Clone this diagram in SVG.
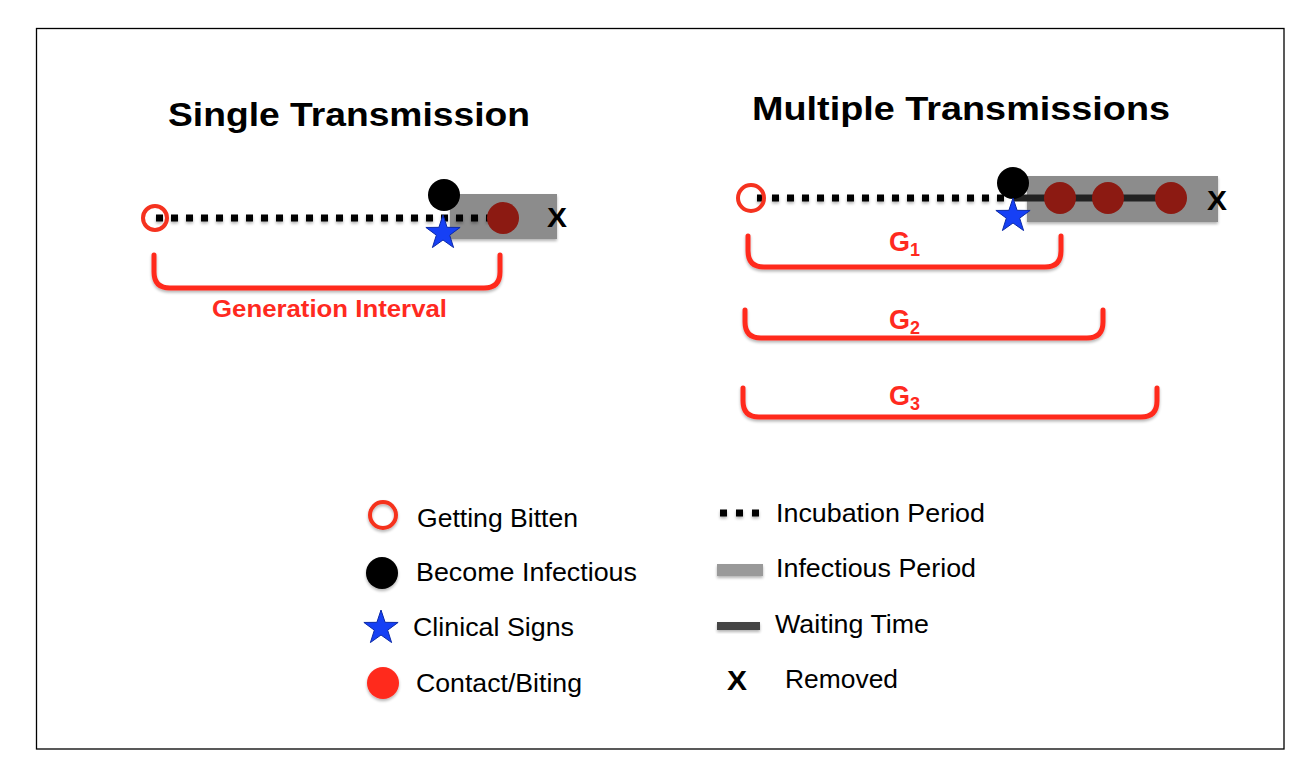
<svg xmlns="http://www.w3.org/2000/svg" width="1310" height="770" viewBox="0 0 1310 770">
<style>
.t{font-family:"Liberation Sans",Arial,sans-serif;fill:#000}
.title{font-size:34px;font-weight:bold}
.leg{font-size:25px}
.red{fill:#ff2a1f;font-weight:bold}
.x{font-size:27px;font-weight:bold}
.brk{fill:none;stroke:#ff2a1f;stroke-width:5;stroke-linecap:round}
.ring{fill:none;stroke:#f5321f;stroke-width:4}
.dot{fill:#000}
.red1{fill:#8c1a12}
.star{fill:#1640f5;stroke:#0c2aa8;stroke-width:1}
.inc{stroke:#000;stroke-width:7;stroke-dasharray:7 8;fill:none}
.wait{stroke:#222;stroke-width:7;fill:none}
.inf{fill:#8c8c8c}
</style>
<defs>
<filter id="sh" x="-20%" y="-40%" width="140%" height="180%">
<feGaussianBlur in="SourceAlpha" stdDeviation="1.5"/>
<feOffset dx="0" dy="2" result="b"/>
<feComponentTransfer><feFuncA type="linear" slope="0.3"/></feComponentTransfer>
<feMerge><feMergeNode/><feMergeNode in="SourceGraphic"/></feMerge>
</filter>
<filter id="shl" filterUnits="userSpaceOnUse" x="0" y="0" width="1310" height="770">
<feGaussianBlur in="SourceAlpha" stdDeviation="1.5"/>
<feOffset dx="0" dy="2" result="b"/>
<feComponentTransfer><feFuncA type="linear" slope="0.3"/></feComponentTransfer>
<feMerge><feMergeNode/><feMergeNode in="SourceGraphic"/></feMerge>
</filter>
<polygon id="starShape" points="0,-18 4.11,-5.66 17.12,-5.56 6.66,2.16 10.58,14.56 0,7 -10.58,14.56 -6.66,2.16 -17.12,-5.56 -4.11,-5.66"/>
</defs>
<rect x="36.5" y="28.5" width="1247.5" height="720.5" fill="#fff" stroke="#000" stroke-width="1.3"/>

<g id="single-title"><text class="t title" x="168" y="126" textLength="362" lengthAdjust="spacingAndGlyphs">Single Transmission</text></g>
<g id="multiple-title"><text class="t title" x="752" y="120" textLength="418" lengthAdjust="spacingAndGlyphs">Multiple Transmissions</text></g>

<g id="single-timeline">
<rect class="inf" x="450" y="194" width="107" height="45" filter="url(#sh)"/>
<line class="inc" x1="156" y1="218" x2="492" y2="218" filter="url(#shl)"/>
<circle class="ring" cx="155" cy="218" r="12"/>
<circle class="dot" cx="444" cy="195" r="16"/>
<use href="#starShape" class="star" transform="translate(443,233)"/>
<circle class="red1" cx="503" cy="218" r="16"/>
<text class="t x" x="547" y="227" textLength="20" lengthAdjust="spacingAndGlyphs">X</text>
</g>

<g id="single-interval">
<path class="brk" d="M154,255 V272 Q154,288 170,288 H484 Q500,288 500,272 V255" filter="url(#sh)"/>
<text class="t red" x="212" y="317" font-size="24" textLength="235" lengthAdjust="spacingAndGlyphs">Generation Interval</text>
</g>

<g id="multiple-timeline">
<rect class="inf" x="1027" y="176" width="191" height="46" filter="url(#sh)"/>
<line class="inc" x1="757" y1="198" x2="1005" y2="198" filter="url(#shl)"/>
<line class="wait" x1="1013" y1="198" x2="1172" y2="198"/>
<circle class="ring" cx="751" cy="198" r="13"/>
<circle class="dot" cx="1013" cy="183" r="16"/>
<use href="#starShape" class="star" transform="translate(1013,216)"/>
<circle class="red1" cx="1060" cy="198" r="16"/>
<circle class="red1" cx="1108" cy="198" r="16"/>
<circle class="red1" cx="1171" cy="198" r="16"/>
<text class="t x" x="1207" y="210" textLength="20" lengthAdjust="spacingAndGlyphs">X</text>
</g>

<g id="g1">
<path class="brk" d="M748,236 V251 Q748,267 764,267 H1045 Q1061,267 1061,251 V236" filter="url(#sh)"/>
<text class="t red" x="889" y="251" font-size="27">G<tspan font-size="18" dy="5">1</tspan></text>
</g>
<g id="g2">
<path class="brk" d="M745,310 V322 Q745,338 761,338 H1087 Q1103,338 1103,322 V310" filter="url(#sh)"/>
<text class="t red" x="889" y="329" font-size="27">G<tspan font-size="18" dy="5">2</tspan></text>
</g>
<g id="g3">
<path class="brk" d="M743,388 V401 Q743,417 759,417 H1141 Q1157,417 1157,401 V388" filter="url(#sh)"/>
<text class="t red" x="889" y="405" font-size="27">G<tspan font-size="18" dy="5">3</tspan></text>
</g>

<g id="legend-getting-bitten">
<circle class="ring" cx="383" cy="515" r="13" filter="url(#sh)"/>
<text class="t leg" x="417" y="527" textLength="161" lengthAdjust="spacingAndGlyphs">Getting Bitten</text>
</g>
<g id="legend-become-infectious">
<circle class="dot" cx="382" cy="573" r="16" filter="url(#sh)"/>
<text class="t leg" x="416" y="581" textLength="221" lengthAdjust="spacingAndGlyphs">Become Infectious</text>
</g>
<g id="legend-clinical-signs">
<use href="#starShape" class="star" transform="translate(381,628)"/>
<text class="t leg" x="413" y="636" textLength="161" lengthAdjust="spacingAndGlyphs">Clinical Signs</text>
</g>
<g id="legend-contact">
<circle cx="383" cy="683" r="16" fill="#ff2a1f" filter="url(#sh)"/>
<text class="t leg" x="416" y="692" textLength="166" lengthAdjust="spacingAndGlyphs">Contact/Biting</text>
</g>

<g id="legend-incubation">
<line class="inc" x1="720" y1="513" x2="760" y2="513" style="stroke-dasharray:7 9" filter="url(#shl)"/>
<text class="t leg" x="776" y="522" textLength="209" lengthAdjust="spacingAndGlyphs">Incubation Period</text>
</g>
<g id="legend-infectious">
<rect x="717" y="564" width="46" height="12" fill="#999" filter="url(#sh)"/>
<text class="t leg" x="776" y="577" textLength="200" lengthAdjust="spacingAndGlyphs">Infectious Period</text>
</g>
<g id="legend-waiting">
<rect x="717" y="622" width="43" height="8" fill="#444" filter="url(#sh)"/>
<text class="t leg" x="775" y="633" textLength="154" lengthAdjust="spacingAndGlyphs">Waiting Time</text>
</g>
<g id="legend-removed">
<text class="t x" x="727" y="690" textLength="20" lengthAdjust="spacingAndGlyphs">X</text>
<text class="t leg" x="785" y="688" textLength="113" lengthAdjust="spacingAndGlyphs">Removed</text>
</g>
</svg>
